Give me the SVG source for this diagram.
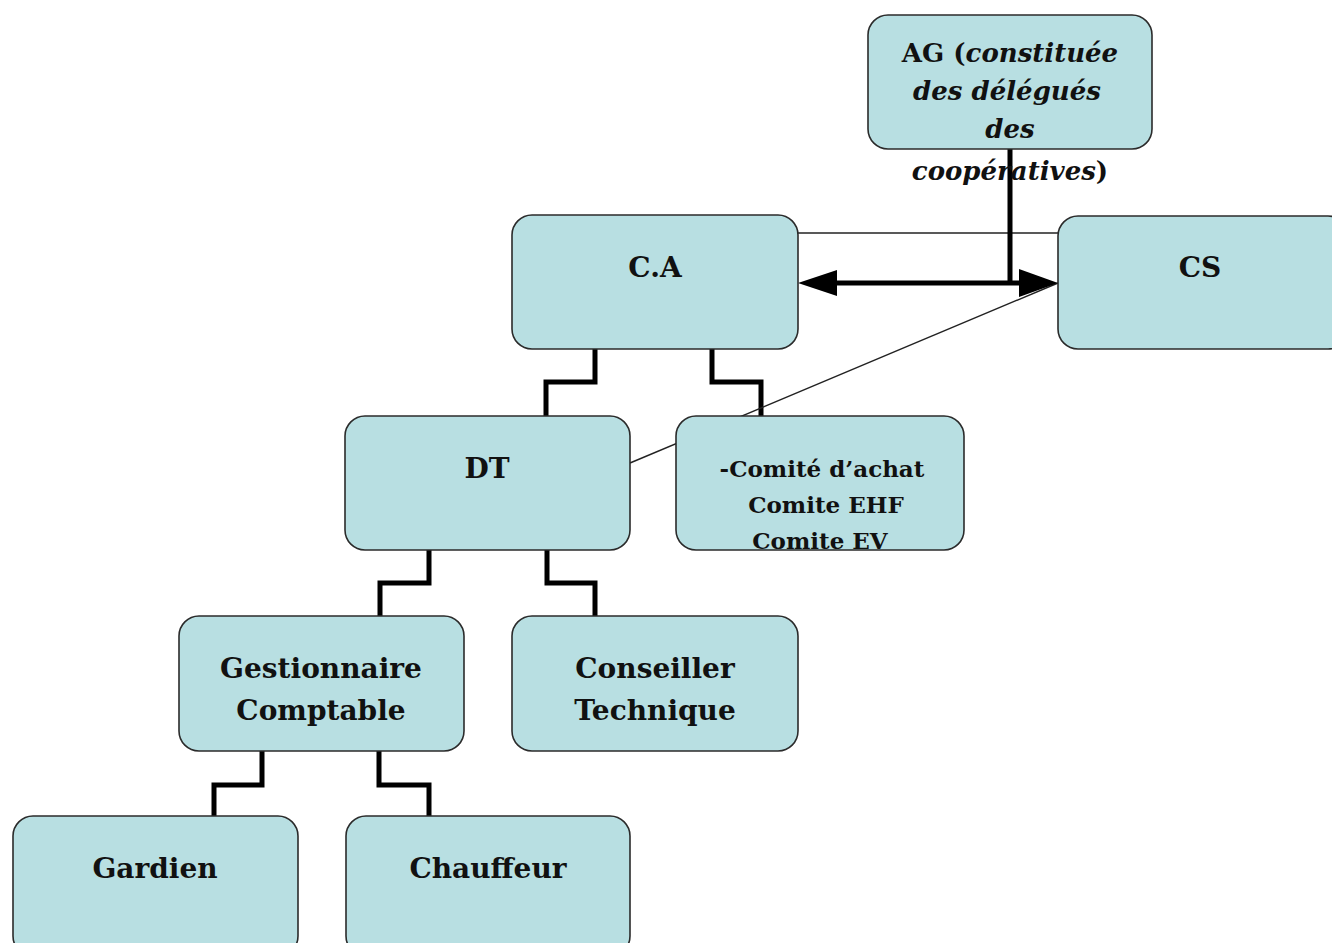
<svg xmlns="http://www.w3.org/2000/svg" width="1332" height="943" viewBox="0 0 1332 943">
<style>
.box{fill:#b8dfe2;stroke:#2b2b2b;stroke-width:1.6}
.t{font-family:"DejaVu Serif",serif;font-weight:bold;font-size:28px;fill:#111;text-anchor:middle}
.a{font-size:26px}
.s{font-size:23px}
.i{font-style:italic}
.elb{fill:none;stroke:#000;stroke-width:5}
.thin{fill:none;stroke:#222;stroke-width:1.4}
</style>
<defs>
<clipPath id="cc"><rect x="676" y="416" width="288" height="134" rx="20"/></clipPath>
</defs>
<rect width="1332" height="943" fill="#fff"/>
<g id="connectors">
<path class="elb" d="M595,349 V382 H546 V416"/>
<path class="elb" d="M712,349 V382 H761 V416"/>
<path class="elb" d="M429,550 V583 H380 V616"/>
<path class="elb" d="M547,550 V583 H595 V616"/>
<path class="elb" d="M262,751 V785 H214 V816"/>
<path class="elb" d="M379,751 V785 H429 V816"/>
<path class="thin" d="M798,233 H1058"/>
<path class="thin" d="M630,463 L1058,283"/>
<path d="M836,283 H1020" stroke="#000" stroke-width="5" fill="none"/>
<path d="M798,283 L837,270 L837,296 Z" fill="#000"/>
<path d="M1058,283 L1019,269 L1019,297 Z" fill="#000"/>
<path d="M1010,149 V285" stroke="#000" stroke-width="5" fill="none"/>
</g>
<g id="ag">
<rect class="box" x="868" y="15" width="284" height="134" rx="20"/>
<text class="t a" x="1010" y="62">AG (<tspan class="i">constituée</tspan></text>
<text class="t a i" x="1007" y="100">des délégués</text>
<text class="t a i" x="1010" y="138">des</text>
<text class="t a" x="1010" y="180"><tspan class="i">coopératives</tspan>)</text>
</g>
<g id="ca">
<rect class="box" x="512" y="215" width="286" height="134" rx="20"/>
<text class="t" x="655" y="277">C.A</text>
</g>
<g id="cs">
<rect class="box" x="1058" y="216" width="290" height="133" rx="20"/>
<text class="t" x="1200" y="277">CS</text>
</g>
<g id="dt">
<rect class="box" x="345" y="416" width="285" height="134" rx="20"/>
<text class="t" x="487" y="478">DT</text>
</g>
<g id="comites">
<rect class="box" x="676" y="416" width="288" height="134" rx="20"/>
<g clip-path="url(#cc)">
<text class="t s" x="822" y="477">-Comité d’achat</text>
<text class="t s" x="826" y="513">Comite EHF</text>
<text class="t s" x="820" y="549">Comite EV</text>
</g>
</g>
<g id="gestionnaire">
<rect class="box" x="179" y="616" width="285" height="135" rx="20"/>
<text class="t" x="321" y="678">Gestionnaire</text>
<text class="t" x="321" y="720">Comptable</text>
</g>
<g id="conseiller">
<rect class="box" x="512" y="616" width="286" height="135" rx="20"/>
<text class="t" x="655" y="678">Conseiller</text>
<text class="t" x="655" y="720">Technique</text>
</g>
<g id="gardien">
<rect class="box" x="13" y="816" width="285" height="140" rx="20"/>
<text class="t" x="155" y="878">Gardien</text>
</g>
<g id="chauffeur">
<rect class="box" x="346" y="816" width="284" height="140" rx="20"/>
<text class="t" x="488" y="878">Chauffeur</text>
</g>
</svg>
